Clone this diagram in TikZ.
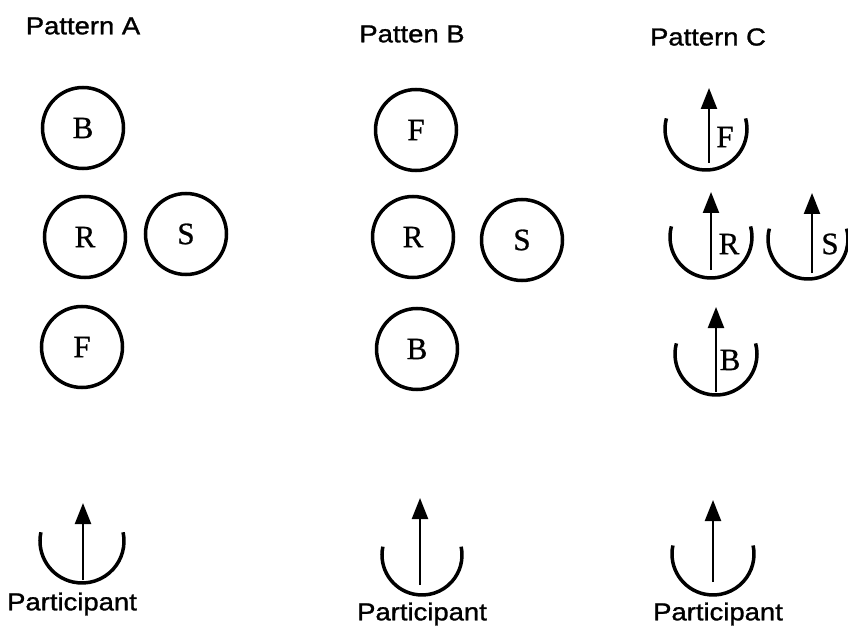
\documentclass[tikz,border=0pt]{standalone}
\usepackage{fontspec}
\setmainfont{Liberation Serif}
\newfontfamily\labfont[FakeStretch=1.12,FakeBold=1.2]{Liberation Sans}
\newfontfamily\letfont[FakeBold=0.8]{Liberation Serif}
\usetikzlibrary{arrows.meta}
\begin{document}
\begin{tikzpicture}[x=1pt,y=-1pt,
  ring/.style={draw,circle,line width=3.5pt,minimum size=81pt,inner sep=0pt,font=\letfont\fontsize{31}{31}\selectfont},
  cup/.style={line width=3.5pt},
  arr/.style={line width=2.3pt,-{Triangle[length=21pt,width=16pt]}},
  lab/.style={font=\labfont\fontsize{24.5}{24.5}\selectfont,inner sep=0pt},
  letr/.style={font=\letfont\fontsize{31}{31}\selectfont,inner sep=0pt}]
\useasboundingbox (0,0) rectangle (848,628);
% titles
\node[lab] (tA) at (83,26) {Pattern A};
\node[lab] (tB) at (412,34) {Patten B};
\node[lab] (tC) at (708,37) {Pattern C};
% Pattern A
\node[ring] (aB) at (83,128) {B};
\node[ring] (aR) at (85,237) {R};
\node[ring] (aS) at (186,234) {S};
\node[ring] (aF) at (82,347) {F};
% Pattern B
\node[ring] (bF) at (416,130) {F};
\node[ring] (bR) at (413,237) {R};
\node[ring] (bS) at (522,240) {S};
\node[ring] (bB) at (417,349) {B};
% Pattern C
\coordinate (cF) at (706,129);
\draw[cup] ([shift={(165:41pt)}]cF) arc[start angle=165,end angle=375,radius=41pt];
\coordinate (cFb) at (709,163); \coordinate (cFt) at (709,88);
\draw[arr] (cFb) -- (cFt);
\node[letr] (cFl) at (725,137) {F};

\coordinate (cR) at (711,237);
\draw[cup] ([shift={(165:41pt)}]cR) arc[start angle=165,end angle=375,radius=41pt];
\coordinate (cRb) at (711,270); \coordinate (cRt) at (711,192);
\draw[arr] (cRb) -- (cRt);
\node[letr] (cRl) at (729,244) {R};

\coordinate (cS) at (808,239);
\draw[cup] ([shift={(165:40pt)}]cS) arc[start angle=165,end angle=375,radius=40pt];
\coordinate (cSb) at (812,273); \coordinate (cSt) at (812,193);
\draw[arr] (cSb) -- (cSt);
\node[letr] (cSl) at (830,244) {S};

\coordinate (cB) at (716,354);
\draw[cup] ([shift={(165:41pt)}]cB) arc[start angle=165,end angle=375,radius=41pt];
\coordinate (cBb) at (716,392); \coordinate (cBt) at (716,307);
\draw[arr] (cBb) -- (cBt);
\node[letr] (cBl) at (730,360) {B};
% Participants
\coordinate (pA) at (82,541);
\draw[cup] ([shift={(168:42pt)}]pA) arc[start angle=168,end angle=372,radius=42pt];
\coordinate (pAb) at (83,580); \coordinate (pAt) at (83,503);
\draw[arr] (pAb) -- (pAt);
\node[lab] (pAl) at (72,604) {Participant};

\coordinate (pB) at (422,555);
\draw[cup] ([shift={(168:40pt)}]pB) arc[start angle=168,end angle=372,radius=40pt];
\coordinate (pBb) at (420,585); \coordinate (pBt) at (420,498);
\draw[arr] (pBb) -- (pBt);
\node[lab] (pBl) at (422,614) {Participant};

\coordinate (pC) at (713,554);
\draw[cup] ([shift={(168:41pt)}]pC) arc[start angle=168,end angle=372,radius=41pt];
\coordinate (pCb) at (713,582); \coordinate (pCt) at (713,500);
\draw[arr] (pCb) -- (pCt);
\node[lab] (pCl) at (718,614) {Participant};
\end{tikzpicture}
\end{document}
